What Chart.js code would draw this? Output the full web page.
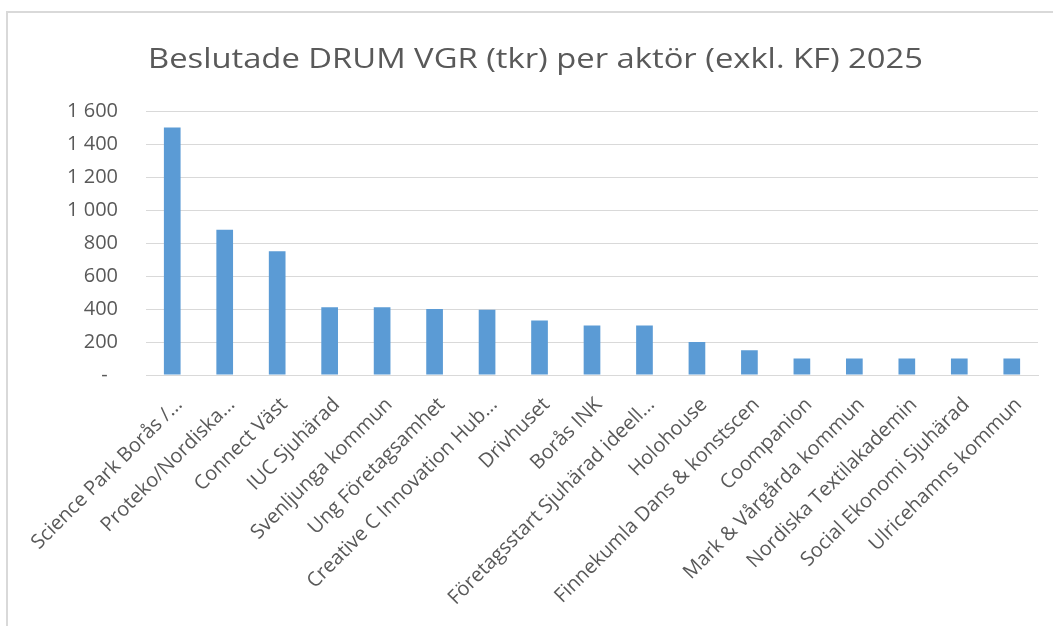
<!DOCTYPE html>
<html>
<head>
<meta charset="utf-8">
<script src="https://cdn.jsdelivr.net/npm/chart.js@4.4.1/dist/chart.umd.min.js"></script>
<style>
  html, body { margin: 0; padding: 0; background: #fff; overflow: hidden; }
  #frame {
    position: absolute; left: 6px; top: 11px; width: 1100px; height: 700px;
    border-left: 2px solid #d9d9d9; border-top: 2px solid #d9d9d9;
  }
  #wrap { position: absolute; left: 0; top: 0; width: 1053px; height: 626px; }
</style>
</head>
<body>
<div id="frame"></div>
<div id="wrap"><canvas id="chart"></canvas></div>
<script>
const chartTitle = 'Beslutade DRUM VGR (tkr) per aktör (exkl. KF) 2025';

const categories = [
    'Science Park Borås /...',
    'Proteko/Nordiska...',
    'Connect Väst',
    'IUC Sjuhärad',
    'Svenljunga kommun',
    'Ung Företagsamhet',
    'Creative C Innovation Hub...',
    'Drivhuset',
    'Borås INK',
    'Företagsstart Sjuhärad ideell...',
    'Holohouse',
    'Finnekumla Dans & konstscen',
    'Coompanion',
    'Mark & Vårgårda kommun',
    'Nordiska Textilakademin',
    'Social Ekonomi Sjuhärad',
    'Ulricehamns kommun'
];

const amounts = [1500, 880, 750, 410, 410, 400, 395, 330, 300, 300, 200, 150, 100, 100, 100, 100, 100];

const yTickLabels = ['-  ', '200', '400', '600', '800', '1 000', '1 200', '1 400', '1 600'];

const textColor = '#595959';
const gridColor = '#d9d9d9';
const font = '"Open Sans", sans-serif';

// the Excel title is wider than Open Sans at the same height, so stretch it a bit
const titlePlugin = {
    id: 'wideTitle',
    afterDraw(chart) {
        const c = chart.ctx;
        c.save();
        c.font = '28px ' + font;
        c.fillStyle = textColor;
        c.textAlign = 'left';
        c.textBaseline = 'alphabetic';
        const w = c.measureText(chartTitle).width;
        c.translate(148, 68);
        c.scale(775 / w, 1);
        c.fillText(chartTitle, 0, 0);
        c.restore();
    }
};

const ctx = document.getElementById('chart').getContext('2d');
new Chart(ctx, {
    type: 'bar',
    data: {
        labels: categories,
        datasets: [{
            label: 'tkr',
            data: amounts,
            backgroundColor: '#5b9bd5',
            barPercentage: 0.318,
            categoryPercentage: 1.0
        }]
    },
    plugins: [titlePlugin],
    options: {
        responsive: true,
        maintainAspectRatio: false,
        animation: false,
        layout: { padding: { left: 0, right: 15, top: 111, bottom: 0 } },
        plugins: {
            legend: { display: false },
            tooltip: { enabled: false },
            title: { display: false }
        },
        scales: {
            x: {
                grid: { display: false, drawTicks: false },
                border: { display: true, color: gridColor, width: 1 },
                ticks: {
                    color: textColor,
                    font: { family: font, size: 20 },
                    minRotation: 45,
                    maxRotation: 45,
                    autoSkip: false,
                    padding: 18,
                    labelOffset: 7
                },
                afterFit: (scale) => { scale.height = 251; }
            },
            y: {
                min: 0,
                max: 1600,
                grid: { color: gridColor, lineWidth: 1, drawTicks: false },
                border: { display: false },
                ticks: {
                    stepSize: 200,
                    color: textColor,
                    font: { family: font, size: 20 },
                    padding: 28,
                    callback: (value, index) => yTickLabels[index]
                },
                afterFit: (scale) => { scale.width = 146; }
            }
        }
    }
});
</script>
</body>
</html>
